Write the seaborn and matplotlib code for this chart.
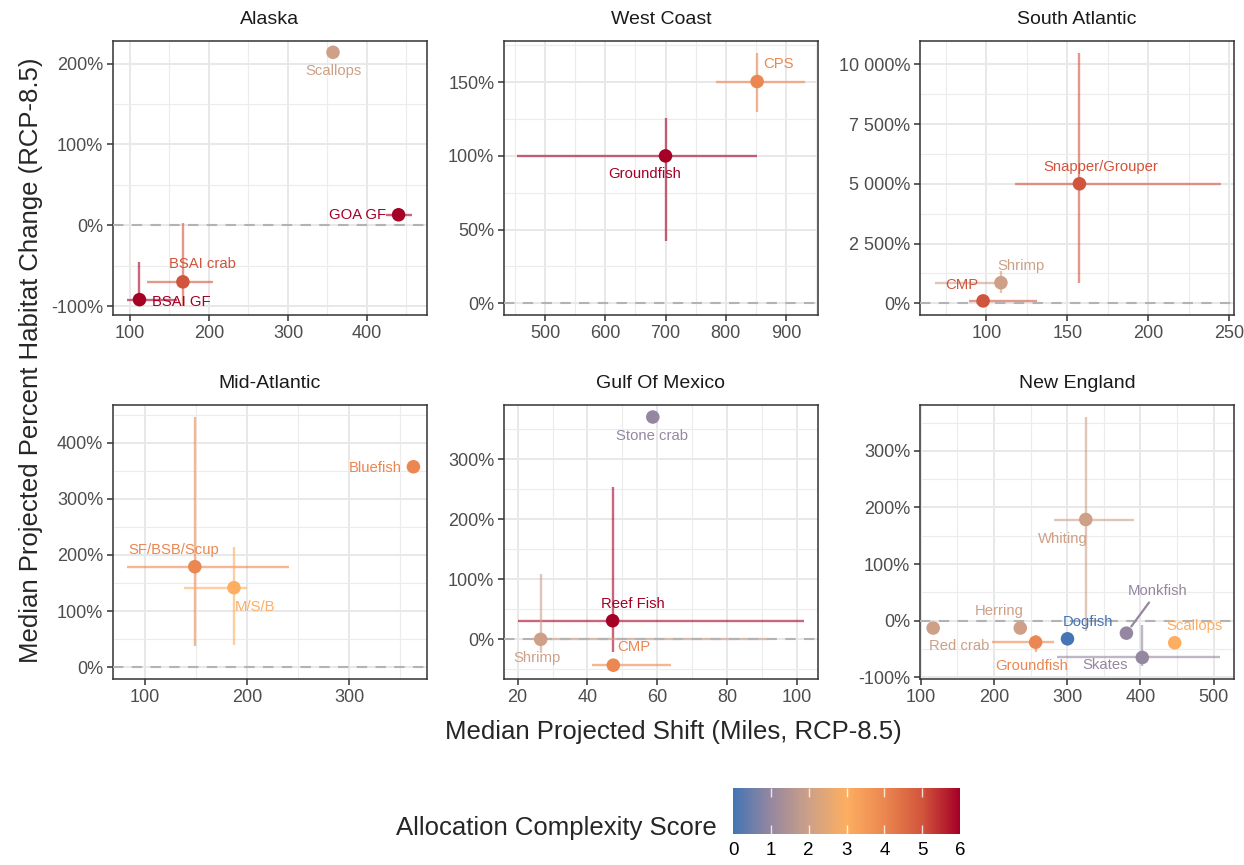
import numpy as np
import pandas as pd
import matplotlib
matplotlib.use('Agg')
import matplotlib.pyplot as plt
import seaborn as sns
from matplotlib.colors import LinearSegmentedColormap, Normalize
from matplotlib.cm import ScalarMappable
from matplotlib.ticker import AutoMinorLocator, FuncFormatter, MultipleLocator

# Data (percent habitat change in %, shift in miles)
regions = ['Alaska', 'West Coast', 'South Atlantic',
           'Mid-Atlantic', 'Gulf Of Mexico', 'New England']

ak_species = ['Scallops', 'GOA GF', 'BSAI crab', 'BSAI GF']
ak_shift = [357, 440, 167, 112]
ak_habitat = [214, 13, -70, -92]
ak_shift_lo = [np.nan, 424, 122, 96]
ak_shift_hi = [np.nan, 457, 205, 160]
ak_hab_lo = [np.nan, np.nan, -100, -100]
ak_hab_hi = [np.nan, np.nan, 3, -46]
ak_score = [2, 6, 5, 6]

wc_species = ['CPS', 'Groundfish']
wc_shift = [852, 700]
wc_habitat = [150.5, 100]
wc_shift_lo = [784, 454]
wc_shift_hi = [931, 851]
wc_hab_lo = [130, 42]
wc_hab_hi = [170, 126]
wc_score = [4, 6]

sa_species = ['Snapper/Grouper', 'Shrimp', 'CMP']
sa_shift = [157.5, 109, 98]
sa_habitat = [5000, 860, 100]
sa_shift_lo = [118, 68, 89]
sa_shift_hi = [245, 109, 131]
sa_hab_lo = [860, 430, np.nan]
sa_hab_hi = [10460, 1365, np.nan]
sa_score = [5, 2, 5]

ma_species = ['Bluefish', 'SF/BSB/Scup', 'M/S/B']
ma_shift = [362.7, 148.7, 187]
ma_habitat = [357, 179, 141.6]
ma_shift_lo = [np.nan, 82.7, 138.5]
ma_shift_hi = [np.nan, 240.6, 200]
ma_hab_lo = [np.nan, 38, 40]
ma_hab_hi = [np.nan, 445, 214.6]
ma_score = [4, 4, 3]

gm_species = ['Stone crab', 'Reef Fish', 'Shrimp', 'CMP']
gm_shift = [58.7, 47.2, 26.6, 47.4]
gm_habitat = [370, 31, 0, -43]
gm_shift_lo = [np.nan, 20, 24, 41.4]
gm_shift_hi = [np.nan, 102, 92, 63.9]
gm_hab_lo = [np.nan, -20.6, -23, np.nan]
gm_hab_hi = [np.nan, 253, 109, np.nan]
gm_score = [1, 6, 2, 4]

ne_species = ['Whiting', 'Herring', 'Red crab', 'Groundfish',
              'Dogfish', 'Monkfish', 'Skates', 'Scallops']
ne_shift = [325.5, 236, 117, 257, 300.5, 381, 402.7, 447]
ne_habitat = [178.7, -13, -13, -38, -32, -22, -65, -39]
ne_shift_lo = [282, np.nan, np.nan, 197.7, np.nan, np.nan, 285.5, np.nan]
ne_shift_hi = [391, np.nan, np.nan, 282, np.nan, np.nan, 509, np.nan]
ne_hab_lo = [-19, np.nan, np.nan, -56, np.nan, np.nan, -80, np.nan]
ne_hab_hi = [359, np.nan, np.nan, -25, np.nan, np.nan, -7, np.nan]
ne_score = [2, 2, 2, 4, 0, 1, 1, 3]

# Build one long table for all regions
frames = []
for region, sp, x, y, xl, xh, yl, yh, sc in [
        (regions[0], ak_species, ak_shift, ak_habitat, ak_shift_lo, ak_shift_hi, ak_hab_lo, ak_hab_hi, ak_score),
        (regions[1], wc_species, wc_shift, wc_habitat, wc_shift_lo, wc_shift_hi, wc_hab_lo, wc_hab_hi, wc_score),
        (regions[2], sa_species, sa_shift, sa_habitat, sa_shift_lo, sa_shift_hi, sa_hab_lo, sa_hab_hi, sa_score),
        (regions[3], ma_species, ma_shift, ma_habitat, ma_shift_lo, ma_shift_hi, ma_hab_lo, ma_hab_hi, ma_score),
        (regions[4], gm_species, gm_shift, gm_habitat, gm_shift_lo, gm_shift_hi, gm_hab_lo, gm_hab_hi, gm_score),
        (regions[5], ne_species, ne_shift, ne_habitat, ne_shift_lo, ne_shift_hi, ne_hab_lo, ne_hab_hi, ne_score)]:
    frames.append(pd.DataFrame({'region': region, 'species': sp, 'shift': x,
                                'habitat': y, 'shift_lo': xl, 'shift_hi': xh,
                                'hab_lo': yl, 'hab_hi': yh, 'score': sc}))
df = pd.concat(frames, ignore_index=True)

# Layout per panel: axes box (pixels), limits and tick steps
panel_box = {
    'Alaska': (113, 41), 'West Coast': (504, 41), 'South Atlantic': (920, 41),
    'Mid-Atlantic': (113, 405), 'Gulf Of Mexico': (504, 405), 'New England': (920, 405),
}
panel_limits = {
    'Alaska': ((78.5, 476), (-111, 228), 100, 100),
    'West Coast': ((432, 953), (-8, 178), 100, 50),
    'South Atlantic': ((59, 253), (-490, 10975), 50, 2500),
    'Mid-Atlantic': ((68.6, 376), (-21, 467), 100, 100),
    'Gulf Of Mexico': ((16.1, 106), (-66, 390), 20, 100),
    'New England': ((99, 528), (-103, 381), 100, 100),
}

# Label offsets from the point, in pixels (dx, dy, ha)
label_offsets = {
    ('Alaska', 'Scallops'): (0, -19, 'center'),
    ('Alaska', 'GOA GF'): (-12, 0, 'right'),
    ('Alaska', 'BSAI crab'): (20, 18, 'center'),
    ('Alaska', 'BSAI GF'): (13, -2, 'left'),
    ('West Coast', 'CPS'): (6, 18, 'left'),
    ('West Coast', 'Groundfish'): (-21, -18, 'center'),
    ('South Atlantic', 'Snapper/Grouper'): (21, 17, 'center'),
    ('South Atlantic', 'Shrimp'): (20, 17, 'center'),
    ('South Atlantic', 'CMP'): (-21, 16, 'center'),
    ('Mid-Atlantic', 'Bluefish'): (-12, -1, 'right'),
    ('Mid-Atlantic', 'SF/BSB/Scup'): (-21, 17, 'center'),
    ('Mid-Atlantic', 'M/S/B'): (21, -19, 'center'),
    ('Gulf Of Mexico', 'Stone crab'): (-1, -19, 'center'),
    ('Gulf Of Mexico', 'Reef Fish'): (20, 17, 'center'),
    ('Gulf Of Mexico', 'Shrimp'): (-4, -19, 'center'),
    ('Gulf Of Mexico', 'CMP'): (20, 18, 'center'),
    ('New England', 'Whiting'): (-23, -19, 'center'),
    ('New England', 'Herring'): (-21, 17, 'center'),
    ('New England', 'Red crab'): (26, -18, 'center'),
    ('New England', 'Groundfish'): (-4, -24, 'center'),
    ('New England', 'Dogfish'): (21, 17, 'center'),
    ('New England', 'Monkfish'): (31, 42, 'center'),
    ('New England', 'Skates'): (-37, -8, 'center'),
    ('New England', 'Scallops'): (20, 17, 'center'),
}

# Colour scale for the allocation complexity score
score_cmap = LinearSegmentedColormap.from_list(
    'complexity', ['#4575b4', '#96879f', '#cda087', '#fdae61',
                   '#eb8750', '#d2553c', '#a50026'])
score_norm = Normalize(0, 6)
score_ticks = [0, 1, 2, 3, 4, 5, 6]

sns.set_style('white')
plt.rcParams['font.family'] = ['Liberation Sans', 'DejaVu Sans']

W, H = 1244, 865
fig = plt.figure(figsize=(W / 100, H / 100), dpi=100)
panel_w, panel_h = 314, 274

pct_fmt = FuncFormatter(lambda v, _: f'{v:,.0f}%'.replace(',', ' '))

for region in regions:
    left, top = panel_box[region]
    ax = fig.add_axes([left / W, 1 - (top + panel_h) / H, panel_w / W, panel_h / H])
    sub = df[df['region'] == region]
    xlim, ylim, xstep, ystep = panel_limits[region]

    # Error bars (ranges) behind the points
    for _, r in sub.iterrows():
        c = score_cmap(score_norm(r['score']))
        if not np.isnan(r['shift_lo']):
            ax.hlines(r['habitat'], r['shift_lo'], r['shift_hi'], colors=[c],
                      alpha=0.6, lw=1.7, zorder=2)
        if not np.isnan(r['hab_lo']):
            ax.vlines(r['shift'], r['hab_lo'], r['hab_hi'], colors=[c],
                      alpha=0.6, lw=1.7, zorder=2)

    # Zero line
    ax.axhline(0, color='#b3b3b3', ls=(0, (5, 4)), lw=1.5, zorder=3)

    sns.scatterplot(data=sub, x='shift', y='habitat', hue='score',
                    palette=score_cmap, hue_norm=(0, 6), s=95,
                    edgecolor='none', legend=False, ax=ax, zorder=4)

    # Species labels
    for _, r in sub.iterrows():
        dx, dy, ha = label_offsets[(region, r['species'])]
        c = score_cmap(score_norm(r['score']))
        arrow = None
        if r['species'] == 'Monkfish':
            arrow = dict(arrowstyle='-', color=c, lw=1.6, shrinkA=1, shrinkB=6)
        ax.annotate(r['species'], (r['shift'], r['habitat']),
                    xytext=(dx, dy), textcoords='offset pixels',
                    ha=ha, va='center', fontsize=10.7, color=c,
                    arrowprops=arrow, zorder=5)

    ax.set_xlim(xlim)
    ax.set_ylim(ylim)
    ax.xaxis.set_major_locator(MultipleLocator(xstep))
    ax.yaxis.set_major_locator(MultipleLocator(ystep))
    ax.xaxis.set_minor_locator(AutoMinorLocator(2))
    ax.yaxis.set_minor_locator(AutoMinorLocator(2))
    ax.yaxis.set_major_formatter(pct_fmt)
    ax.grid(which='major', color='#e8e8e8', lw=1.4, zorder=0)
    ax.grid(which='minor', color='#ececec', lw=0.8, zorder=0)
    ax.set_axisbelow(True)
    ax.tick_params(which='major', length=4, width=1.1, color='#333333',
                   labelsize=13, labelcolor='#4d4d4d', pad=3)
    ax.tick_params(which='minor', length=0)
    ax.tick_params(axis='x', bottom=True)
    ax.tick_params(axis='y', left=True)
    for s in ax.spines.values():
        s.set_color('#333333')
        s.set_linewidth(1.1)
    ax.set_xlabel('')
    ax.set_ylabel('')
    ax.set_title(region, fontsize=14, color='#1a1a1a', pad=12)

# Shared axis titles
fig.text(673 / W, 1 - 732 / H, 'Median Projected Shift (Miles, RCP-8.5)',
         ha='center', va='center', fontsize=18.5)
fig.text(31 / W, 1 - 360 / H, 'Median Projected Percent Habitat Change (RCP-8.5)',
         ha='center', va='center', rotation=90, fontsize=18.5)

# Colour bar legend
cax = fig.add_axes([733 / W, 1 - 834 / H, 227 / W, 46 / H])
sm = ScalarMappable(norm=score_norm, cmap=score_cmap)
cb = fig.colorbar(sm, cax=cax, orientation='horizontal', ticks=score_ticks)
cb.outline.set_visible(False)
cax.tick_params(length=0, labelsize=13.5, pad=6, labelcolor='black')
# White tick marks inside the bar, top and bottom
cax.vlines(score_ticks[1:-1], 0, 0.2, colors='white', lw=1, alpha=0.8,
           transform=cax.get_xaxis_transform(), zorder=5)
cax.vlines(score_ticks[1:-1], 0.8, 1, colors='white', lw=1, alpha=0.8,
           transform=cax.get_xaxis_transform(), zorder=5)
fig.text(717 / W, 1 - 828 / H, 'Allocation Complexity Score',
         ha='right', va='center', fontsize=18.5)

fig.savefig('out.png', dpi=100)
